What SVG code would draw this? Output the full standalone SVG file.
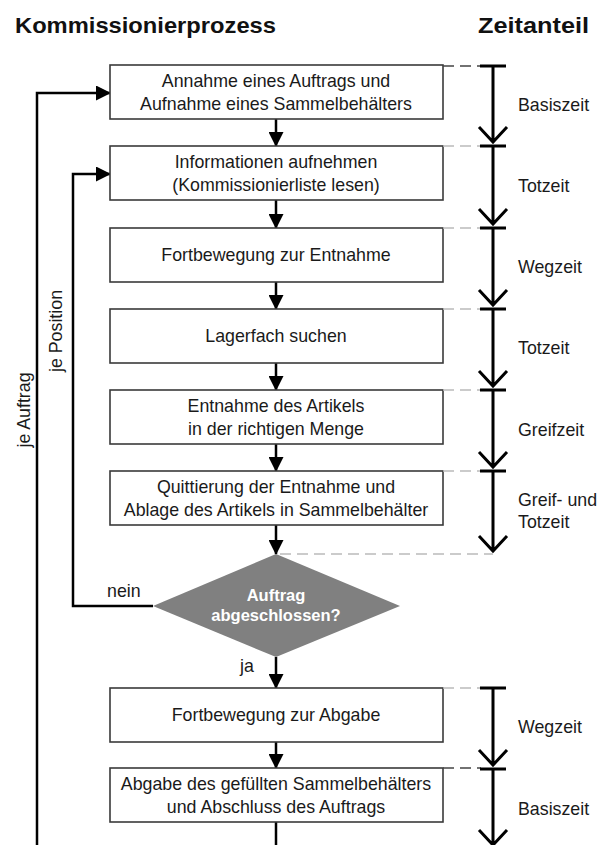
<svg xmlns="http://www.w3.org/2000/svg" width="605" height="845" viewBox="0 0 605 845">
<style>
text{font-family:"Liberation Sans",Arial,sans-serif;fill:#1a1a1a}
.title{font-size:22px;font-weight:bold;fill:#111}
.bt{font-size:17.8px;text-anchor:middle}
.lab{font-size:17.8px}
.dt{font-size:16.5px;font-weight:bold;fill:#fff;text-anchor:middle}
.box{fill:#fff;stroke:#3a3a3a;stroke-width:1.6}
.flow{fill:none;stroke:#000;stroke-width:2.5}
.tl{fill:none;stroke:#000;stroke-width:3}
.dd{fill:none;stroke:#444;stroke-width:1.5;stroke-dasharray:11 6}
.dl{fill:none;stroke:#bbb;stroke-width:1.5;stroke-dasharray:11 6}
</style>
<defs>
<marker id="ah" markerWidth="15" markerHeight="15" viewBox="0 0 15 15" refX="14" refY="7.5" orient="auto" markerUnits="userSpaceOnUse">
<path d="M0,0 L15,7.5 L0,15 Z" fill="#000"/>
</marker>
</defs>
<rect width="605" height="845" fill="#fff"/>
<text class="title" x="15" y="33" textLength="261" lengthAdjust="spacingAndGlyphs">Kommissionierprozess</text>
<text class="title" x="478" y="33" textLength="111" lengthAdjust="spacingAndGlyphs">Zeitanteil</text>

<g id="connectors">
<path class="flow" d="M276,119 V146" marker-end="url(#ah)"/>
<path class="flow" d="M276,200 V228" marker-end="url(#ah)"/>
<path class="flow" d="M276,282 V309" marker-end="url(#ah)"/>
<path class="flow" d="M276,363 V390" marker-end="url(#ah)"/>
<path class="flow" d="M276,444 V471" marker-end="url(#ah)"/>
<path class="flow" d="M276,525 V554" marker-end="url(#ah)"/>
<path class="flow" d="M276,657 V688" marker-end="url(#ah)"/>
<path class="flow" d="M276,742 V768" marker-end="url(#ah)"/>
<path class="flow" d="M276,822 V845"/>
<path class="flow" d="M153,606 H73 V174 H110" marker-end="url(#ah)"/>
<path class="flow" d="M37,845 V93 H110" marker-end="url(#ah)"/>
<text class="lab" x="107" y="597">nein</text>
<text class="lab" x="240" y="672">ja</text>
<text class="lab" transform="translate(29.5,410) rotate(-90)" text-anchor="middle">je Auftrag</text>
<text class="lab" transform="translate(62,331) rotate(-90)" text-anchor="middle">je Position</text>
</g>

<g id="n1"><rect class="box" x="110" y="65" width="333" height="54"/><text class="bt" x="276" y="87">Annahme eines Auftrags und</text><text class="bt" x="276" y="110">Aufnahme eines Sammelbehälters</text></g>
<g id="n2"><rect class="box" x="110" y="146" width="333" height="54"/><text class="bt" x="276" y="168">Informationen aufnehmen</text><text class="bt" x="276" y="191">(Kommissionierliste lesen)</text></g>
<g id="n3"><rect class="box" x="110" y="228" width="333" height="54"/><text class="bt" x="276" y="261">Fortbewegung zur Entnahme</text></g>
<g id="n4"><rect class="box" x="110" y="309" width="333" height="54"/><text class="bt" x="276" y="342">Lagerfach suchen</text></g>
<g id="n5"><rect class="box" x="110" y="390" width="333" height="54"/><text class="bt" x="276" y="412">Entnahme des Artikels</text><text class="bt" x="276" y="435">in der richtigen Menge</text></g>
<g id="n6"><rect class="box" x="110" y="471" width="333" height="54"/><text class="bt" x="276" y="493">Quittierung der Entnahme und</text><text class="bt" x="276" y="516">Ablage des Artikels in Sammelbehälter</text></g>
<g id="decision"><path d="M276,554 L400,606 L276,657 L153,606 Z" fill="#808080"/><text class="dt" x="276" y="601">Auftrag</text><text class="dt" x="276" y="621">abgeschlossen?</text></g>
<g id="n7"><rect class="box" x="110" y="688" width="333" height="54"/><text class="bt" x="276" y="721">Fortbewegung zur Abgabe</text></g>
<g id="n8"><rect class="box" x="110" y="768" width="333" height="54"/><text class="bt" x="276" y="790">Abgabe des gefüllten Sammelbehälters</text><text class="bt" x="276" y="813">und Abschluss des Auftrags</text></g>

<g id="timescale">
<path class="dd" d="M443,66 H481"/>
<path class="dl" d="M443,146 H481"/>
<path class="dl" d="M443,228 H481"/>
<path class="dl" d="M443,309 H481"/>
<path class="dl" d="M443,390 H481"/>
<path class="dl" d="M443,471 H481"/>
<path class="dl" d="M280,554 H493" stroke-dasharray="9 6"/>
<path class="dl" d="M443,688 H481"/>
<path class="dd" d="M443,768 H481"/>
<path class="tl" d="M480,66 H506 M493,66 V142 M479,127 L493,142 L507,127"/>
<path class="tl" d="M480,146 H506 M493,146 V224 M479,209 L493,224 L507,209"/>
<path class="tl" d="M480,228 H506 M493,228 V305 M479,290 L493,305 L507,290"/>
<path class="tl" d="M480,309 H506 M493,309 V386 M479,371 L493,386 L507,371"/>
<path class="tl" d="M480,390 H506 M493,390 V467 M479,452 L493,467 L507,452"/>
<path class="tl" d="M480,471 H506 M493,471 V551 M479,536 L493,551 L507,536"/>
<path class="tl" d="M480,688 H506 M493,688 V765 M479,750 L493,765 L507,750"/>
<path class="tl" d="M480,769 H506 M493,769 V845 M479,830 L493,845 L507,830"/>
<text class="lab" x="518" y="111">Basiszeit</text>
<text class="lab" x="518" y="192">Totzeit</text>
<text class="lab" x="518" y="273">Wegzeit</text>
<text class="lab" x="518" y="354">Totzeit</text>
<text class="lab" x="518" y="436">Greifzeit</text>
<text class="lab" x="518" y="506">Greif- und</text>
<text class="lab" x="518" y="528">Totzeit</text>
<text class="lab" x="518" y="733">Wegzeit</text>
<text class="lab" x="518" y="815">Basiszeit</text>
</g>
</svg>
